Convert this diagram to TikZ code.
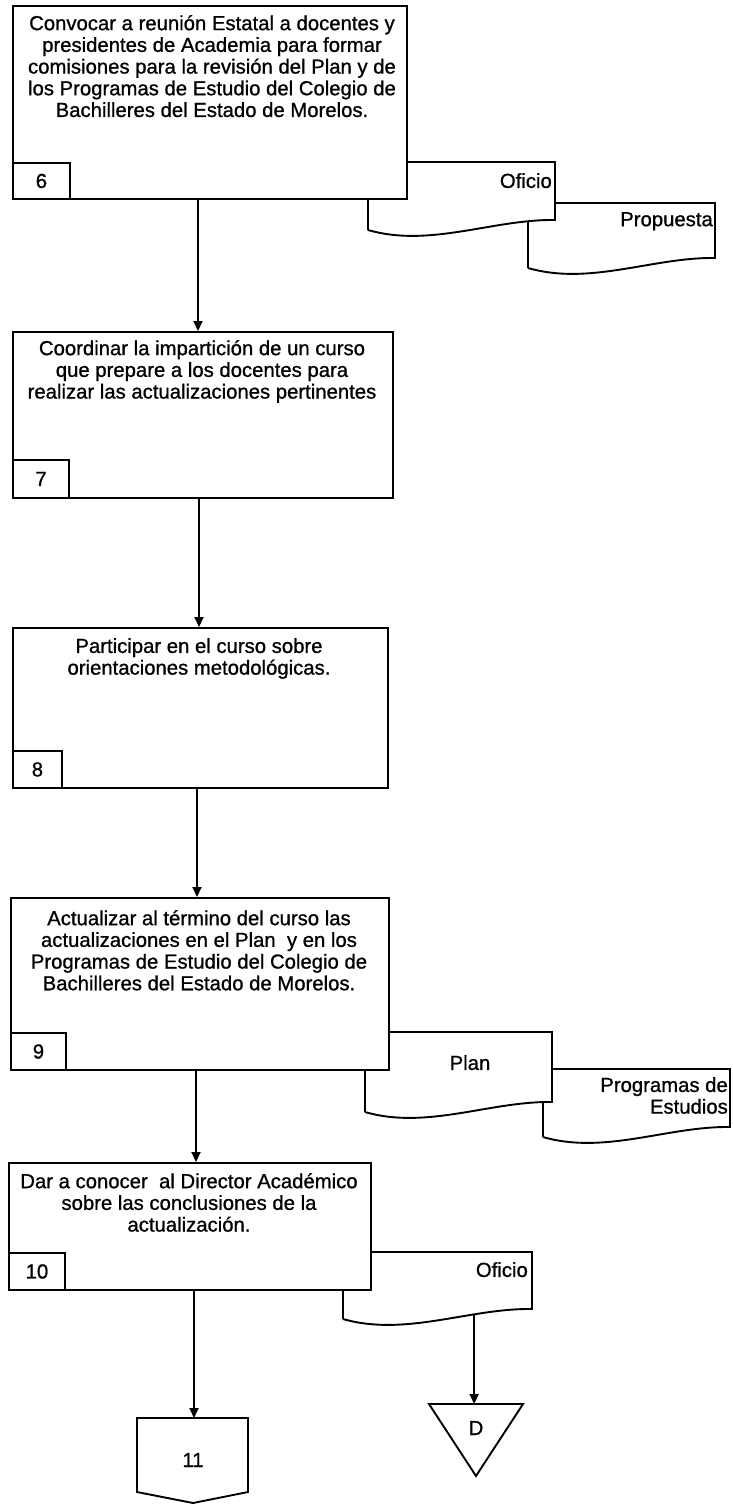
\documentclass[tikz,border=0pt]{standalone}
\usepackage{fontspec}
\setmainfont{Liberation Sans}[FakeBold=0.9]
\usetikzlibrary{arrows.meta}

% document symbol: frame node plus outline with a wavy lower edge
\newcommand\wavydoc[5]{%
  \node[docframe, minimum width=#4pt, minimum height=#5pt, anchor=north west] (#1) at (#2,#3) {};
  \draw[docline] (#1.south west) -- (#1.north west) -- (#1.north east)
    -- ([yshift=10pt]#1.south east)
    .. controls +(-0.33*#4pt,1pt) and +(0.33*#4pt,-18pt) .. (#1.south west)
    coordinate[pos=0.307] (#1w);
}

\begin{document}
\begin{tikzpicture}[x=1pt,y=-1pt,
  txt/.style={font={\fontsize{20.3}{21.7}\selectfont}, inner sep=0pt},
  stepbox/.style={draw, line width=1.9pt, fill=white, inner sep=0pt},
  numbox/.style={draw, line width=1.9pt, fill=white, inner sep=0pt,
    font={\fontsize{20.3}{21.7}\selectfont}},
  docframe/.style={draw=none, inner sep=0pt, outer sep=0pt},
  docline/.style={draw, line width=1.9pt, fill=white, line join=miter},
  arr/.style={line width=1.9pt, -{Triangle[length=10pt,width=9pt]}}]

\useasboundingbox (0,0) rectangle (732,1504);

% ---------- step 6 ----------
\wavydoc{prop}{528}{203}{187}{65}
\node[txt, anchor=north east] (tprop) at (713,212) {Propuesta};
\wavydoc{of1}{368}{162}{187}{68}
\node[txt, anchor=north east] (tof1) at (552,173) {Oficio};
\node[stepbox, minimum width=394pt, minimum height=193pt, anchor=north west] (b6) at (12,5) {};
\node[txt, align=center, anchor=north] (t6) at (212,15)
  {Convocar a reunión Estatal a docentes y\\presidentes de Academia para formar\\comisiones para la revisión del Plan y de\\los Programas de Estudio del Colegio de\\Bachilleres del Estado de Morelos.};
\node[numbox, minimum width=57pt, minimum height=36pt, anchor=south west] (n6) at (b6.south west) {6};

% ---------- step 7 ----------
\node[stepbox, minimum width=380pt, minimum height=166pt, anchor=north west] (b7) at (12,331) {};
\node[txt, align=center, anchor=north] (t7) at (202,340)
  {Coordinar la impartición de un curso\\que prepare a los docentes para\\realizar las actualizaciones pertinentes};
\node[numbox, minimum width=56pt, minimum height=38pt, anchor=south west] (n7) at (b7.south west) {7};

% ---------- step 8 ----------
\node[stepbox, minimum width=375pt, minimum height=160pt, anchor=north west] (b8) at (12,627) {};
\node[txt, align=center, anchor=north] (t8) at (199,638)
  {Participar en el curso sobre\\orientaciones metodológicas.};
\node[numbox, minimum width=49pt, minimum height=37pt, anchor=south west] (n8) at (b8.south west) {8};

% ---------- step 9 ----------
\wavydoc{prog}{543}{1069}{187}{68}
\node[txt, align=right, anchor=north east] (tprog) at (728,1077) {Programas de\\Estudios};
\wavydoc{plan}{365}{1032}{187}{80}
\node[txt, anchor=north] (tplan) at (470,1055) {Plan};
\node[stepbox, minimum width=378pt, minimum height=172pt, anchor=north west] (b9) at (10,897) {};
\node[txt, align=center, anchor=north] (t9) at (199,910)
  {Actualizar al término del curso las\\actualizaciones en el Plan~ y en los\\Programas de Estudio del Colegio de\\Bachilleres del Estado de Morelos.};
\node[numbox, minimum width=55pt, minimum height=37pt, anchor=south west] (n9) at (b9.south west) {9};

% ---------- step 10 ----------
\wavydoc{of2}{343}{1252}{189}{67}
\node[txt, anchor=north east] (tof2) at (528,1262) {Oficio};
\node[stepbox, minimum width=362pt, minimum height=127pt, anchor=north west] (b10) at (8,1162) {};
\node[txt, align=center, anchor=north] (t10) at (189,1173)
  {Dar a conocer~ al Director Académico\\sobre las conclusiones de la\\actualización.};
\node[numbox, minimum width=56pt, minimum height=37pt, anchor=south west] (n10) at (b10.south west) {10};

% ---------- off-page connector 11 ----------
\coordinate (p11top) at (193,1418);
\draw[line width=1.9pt, line join=miter] (137,1418) -- (248,1418) -- (248,1492) -- (193,1503) -- (137,1492) -- cycle;
\node[txt] (c11) at (193,1460) {11};

% ---------- file symbol D ----------
\coordinate (dtop) at (476,1404);
\draw[line width=1.9pt, line join=miter] (429,1404) -- (523,1404) -- (476,1476) -- cycle;
\node[txt] (dlab) at (476,1428) {D};

% ---------- flow ----------
\coordinate (x6) at (198,0);
\coordinate (x7) at (199,0);
\coordinate (x8) at (197,0);
\coordinate (x9) at (196,0);
\coordinate (x10) at (194,0);
\draw[arr] (b6.south -| x6) -- (b7.north -| x6);
\draw[arr] (b7.south -| x7) -- (b8.north -| x7);
\draw[arr] (b8.south -| x8) -- (b9.north -| x8);
\draw[arr] (b9.south -| x9) -- (b10.north -| x9);
\draw[arr] (b10.south -| x10) -- (p11top -| x10);
\draw[arr] (of2w) -- (of2w |- dtop);

\end{tikzpicture}
\end{document}
